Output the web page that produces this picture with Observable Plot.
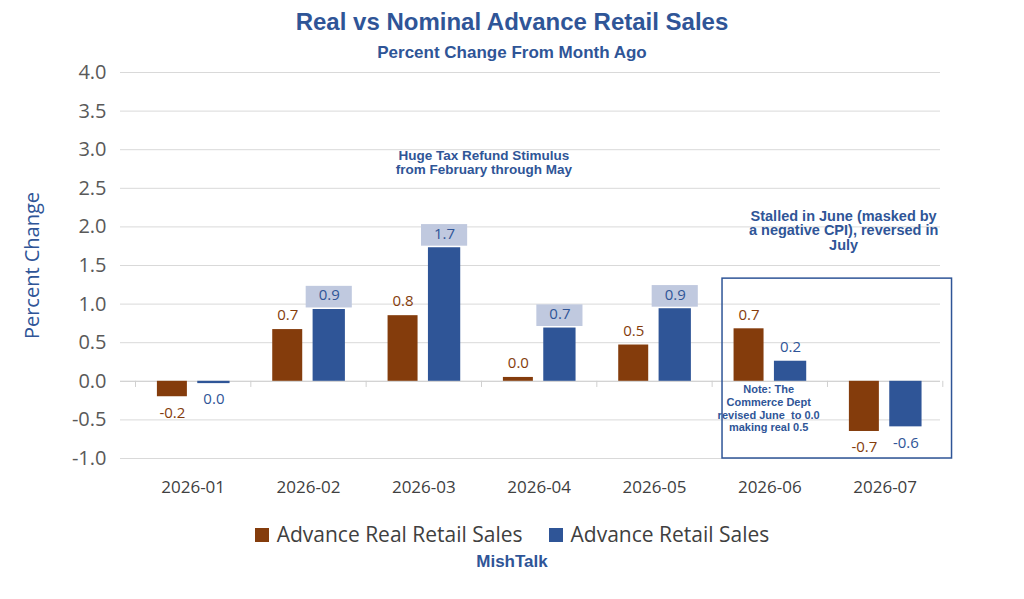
<!DOCTYPE html>
<html><head><meta charset="utf-8">
<script src="https://cdn.jsdelivr.net/npm/d3@7"></script>
<script src="https://cdn.jsdelivr.net/npm/@observablehq/plot@0.6"></script>
<style>
body{margin:0;background:#fff;font-family:"Open Sans",sans-serif;width:1024px;}
.t{font-family:Arial,"Liberation Sans",sans-serif;font-weight:bold;color:#2F5597;text-align:center;}
</style></head><body>
<div class="t" style="font-size:24px;padding-top:8px;height:32px;">Real vs Nominal Advance Retail Sales</div>
<div class="t" style="font-size:17px;height:24px;padding-top:3px;">Percent Change From Month Ago</div>
<div id="chart"></div>
<div style="display:flex;justify-content:center;gap:26px;font-family:'Open Sans',sans-serif;font-size:21px;color:#404040;margin-top:17px;height:30px;align-items:center;">
<span><span style="display:inline-block;width:14px;height:14px;background:#843C0C;margin-right:8px;"></span>Advance Real Retail Sales</span>
<span><span style="display:inline-block;width:14px;height:14px;background:#2F5597;margin-right:8px;"></span>Advance Retail Sales</span>
</div>
<div class="t" style="font-size:17px;margin-top:3px;">MishTalk</div>
<script>
const months = ["2026-01","2026-02","2026-03","2026-04","2026-05","2026-06","2026-07"];
const realVals = [-0.2, 0.67, 0.85, 0.05, 0.47, 0.68, -0.65];
const realLabels = ["-0.2","0.7","0.8","0.0","0.5","0.7","-0.7"];
const nomVals = [-0.03, 0.93, 1.73, 0.69, 0.94, 0.26, -0.59];
const nomLabels = ["0.0","0.9","1.7","0.7","0.9","0.2","-0.6"];
const boxedIdx = [1,2,3,4];
const yTicks = [-1,-0.5,0,0.5,1,1.5,2,2.5,3,3.5,4];

const REAL="#843C0C", NOM="#2F5597";
const real = months.map((m,i)=>({i, v:realVals[i], lab:realLabels[i]}));
const nom = months.map((m,i)=>({i, v:nomVals[i], lab:nomLabels[i]}));
const boxed = boxedIdx.map(i=>nom[i]);
const fmt = d=>d.toFixed(1);
const pos = a=>a.filter(d=>d.v>=0), neg = a=>a.filter(d=>d.v<0);

const chart = Plot.plot({
  width:1024, height:435, marginTop:5, marginBottom:44, marginLeft:120, marginRight:84,
  style:{fontFamily:"'Open Sans',sans-serif", background:"white", overflow:"visible"},
  x:{domain:[-0.63,6.48], axis:null},
  y:{domain:[-1,4], label:null, axis:null},
  marks:[
    Plot.gridY(yTicks,{stroke:"#d9d9d9", strokeOpacity:1}),
    Plot.axisY(yTicks,{tickSize:0, tickPadding:14, tickFormat:fmt, fontSize:20, fill:"#595959", label:null}),
    Plot.text(["Percent Change"],{x:-0.63, y:1.5, dx:-88, rotate:-90, fontSize:20, fill:NOM, clip:false}),
    Plot.ruleY([0],{stroke:"#d0d0d0"}),
    Plot.ruleX(d3.range(-0.5,6.6,1),{y1:0, y2:-0.08, stroke:"#d0d0d0"}),
    Plot.rect(boxed,{x1:d=>d.i-0.02, x2:d=>d.i+0.38, y1:d=>d.v+0.02, y2:d=>d.v+0.3, fill:"#C0C9DF"}),
    Plot.rectY(real,{x1:d=>d.i-0.31, x2:d=>d.i-0.05, y1:0, y2:"v", fill:REAL}),
    Plot.rectY(nom,{x1:d=>d.i+0.04, x2:d=>d.i+0.32, y1:0, y2:"v", fill:NOM}),
    Plot.text(pos(real),{x:d=>d.i-0.18, y:"v", text:"lab", dy:-14, fill:REAL, fontSize:15}),
    Plot.text(neg(real),{x:d=>d.i-0.18, y:"v", text:"lab", dy:16, fill:REAL, fontSize:15}),
    Plot.text(pos(nom),{x:d=>d.i+0.18, y:"v", text:"lab", dy:-14, fill:NOM, fontSize:15}),
    Plot.text(neg(nom),{x:d=>d.i+0.18, y:"v", text:"lab", dy:16, fill:NOM, fontSize:15}),
    Plot.text(months,{x:(d,i)=>i, y:-1, text:d=>d, dy:29, fontSize:17, fill:"#404040"}),
    Plot.text(["Huge Tax Refund Stimulus\nfrom February through May"],{x:2.52, y:2.99, lineAnchor:"top", fontSize:13.5, fontWeight:"bold", fill:NOM, fontFamily:"Arial,'Liberation Sans',sans-serif"}),
    Plot.text(["Stalled in June (masked by\na negative CPI), reversed in\nJuly"],{x:5.64, y:2.21, lineAnchor:"top", fontSize:14.5, fontWeight:"bold", fill:NOM, fontFamily:"Arial,'Liberation Sans',sans-serif"}),
    Plot.text(["Note: The\nCommerce Dept\nrevised June  to 0.0\nmaking real 0.5"],{x:4.99, y:-0.04, lineAnchor:"top", fontSize:11, fontWeight:"bold", fill:NOM, lineHeight:1.15, fontFamily:"Arial,'Liberation Sans',sans-serif"}),
    Plot.rect([0],{x1:4.59, x2:6.58, y1:-1, y2:1.33, fill:"none", stroke:NOM, strokeWidth:1.5, clip:false})
  ]
});
document.getElementById("chart").append(chart);
</script></body></html>
